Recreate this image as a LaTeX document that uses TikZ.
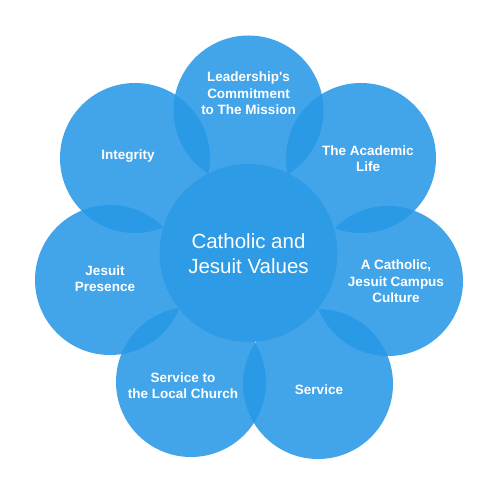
\documentclass[tikz,border=0pt]{standalone}
\usepackage{fontspec}
\setmainfont{Liberation Sans}
\definecolor{petal}{RGB}{40,152,230}
\definecolor{core}{RGB}{46,155,230}
\begin{document}
\begin{tikzpicture}[x=1pt,y=-1pt,
  petalc/.style={circle,minimum size=150pt,inner sep=0pt,fill=petal,fill opacity=0.88},
  corec/.style={circle,minimum size=178pt,inner sep=0pt,fill=core},
  lbl/.style={text=white,align=center,font=\bfseries\fontsize{13.5}{16.5}\selectfont},
  corelbl/.style={text=white,align=center,font=\fontsize{20.5}{25}\selectfont}]
\useasboundingbox (0,0) rectangle (500,500);
\node[petalc] (p1) at (248.5,110.5) {};
\node[petalc] (p2) at (361,158) {};
\node[petalc] (p3) at (388,281) {};
\node[petalc] (p4) at (318,384) {};
\node[petalc] (p5) at (191,382) {};
\node[petalc] (p6) at (110,280) {};
\node[petalc] (p7) at (135,158) {};
\node[corec] (core) at (248.5,253) {};
\node[corelbl] (tcore) at (248.5,254) {Catholic and\\Jesuit Values};
\node[lbl] (t1) at (248.5,93.5) {Leadership\textquotesingle s\\Commitment\\to The Mission};
\node[lbl] (t2) at (368,158.5) {The Academic\\Life};
\node[lbl] (t3) at (396,281.5) {A Catholic,\\Jesuit Campus\\Culture};
\node[lbl] (t4) at (319,390) {Service};
\node[lbl] (t5) at (183,385.5) {Service to\\the Local Church};
\node[lbl] (t6) at (105,278.5) {Jesuit\\Presence};
\node[lbl] (t7) at (128,156) {Integrity};
\end{tikzpicture}
\end{document}
